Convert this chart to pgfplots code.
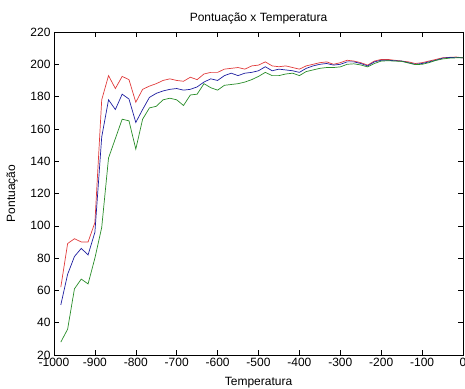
\documentclass[border=0pt]{standalone}
\usepackage{fontspec}
\setmainfont{Liberation Sans}
\usepackage{pgfplots}
\usepackage{pgfplotstable}
\pgfplotsset{compat=1.18}
\definecolor{mred}{RGB}{225,60,60}
\definecolor{mblue}{RGB}{30,30,160}
\definecolor{mgreen}{RGB}{40,140,40}
\pgfplotstableread{
k red blue green
1 62 51 28
2 89 70 36
3 92 81 61
4 90 86 67
5 90 82 64
6 102 96 80
7 178 155 99
8 193 178 142
9 185 172 154
10 192.5 181.5 166
11 190.5 178.5 165
12 176.5 164 147.5
13 184.5 172 166
14 186.5 179.5 173
15 188 182 174
16 190 183.5 178
17 191 184.5 179
18 190 185 178
19 189.5 184 174.5
20 192 184.5 181
21 190.5 186 181.5
22 194 189 188
23 195 191 185.5
24 195 190 184
25 197 193 187
26 197.5 194.5 187.5
27 198 193 188
28 197 194.5 189
29 199 195 190.5
30 199.5 196 192.5
31 201.5 198.5 195
32 199 196 193
33 198.5 197 193
34 199 196.5 194
35 198 196 194.5
36 197 195 193
37 199 197.5 195.5
38 200 199 196.5
39 201 200 197.5
40 201.5 200.5 198
41 200 199.5 198
42 201 200 198.4
43 202.5 201.5 200
44 202 201.5 200.3
45 201 200.5 199.6
46 199.5 199 198.4
47 202 201.5 200.5
48 203 202.5 202
49 203 202.5 202.2
50 202.5 202.2 202
51 202 202 201.8
52 201.5 201 200.8
53 200.5 200 199.8
54 201 200.5 200
55 202 201.5 201
56 203 202.5 202.4
57 204 203.8 203.3
58 204.3 204.2 203.8
59 204.5 204.3 204
60 204 204 204
}\data
\begin{document}
\begin{tikzpicture}[x=1pt,y=1pt]
\begin{axis}[
  name=ax,
  at={(0,0)}, anchor=south west,
  scale only axis,
  width=409pt, height=323pt,
  xmin=-1000, xmax=0, ymin=20, ymax=220,
  xtick={-1000,-900,...,0},
  xticklabels={-1000,-900,-800,-700,-600,-500,-400,-300,-200,-100,0},
  ytick={20,40,...,220},
  yticklabels={20,40,60,80,100,120,140,160,180,200,220},
  tick align=inside,
  major tick length=5pt,
  tick style={black, line width=0.5pt},
  axis line style={black, line width=0.5pt},
  ticklabel style={font=\fontsize{12pt}{14pt}\selectfont},
  xticklabel style={yshift=0pt},
  title={Pontuação x Temperatura},
  title style={font=\fontsize{12pt}{14pt}\selectfont, yshift=-2pt},
  xlabel={Temperatura},
  ylabel={Pontuação},
  label style={font=\fontsize{12pt}{14pt}\selectfont},
  xlabel style={yshift=-3pt},
  ylabel style={yshift=6pt},
]
\addplot[mred, line width=0.7pt] table[x expr={-1000+\thisrow{k}*1000/60}, y=red] {\data};
\addplot[mblue, line width=0.7pt] table[x expr={-1000+\thisrow{k}*1000/60}, y=blue] {\data};
\addplot[mgreen, line width=0.7pt] table[x expr={-1000+\thisrow{k}*1000/60}, y=green] {\data};
\end{axis}
\pgfresetboundingbox
\path ([shift={(-54pt,-33pt)}]ax.south west) rectangle ([shift={(2pt,32pt)}]ax.north east);
\end{tikzpicture}
\end{document}
